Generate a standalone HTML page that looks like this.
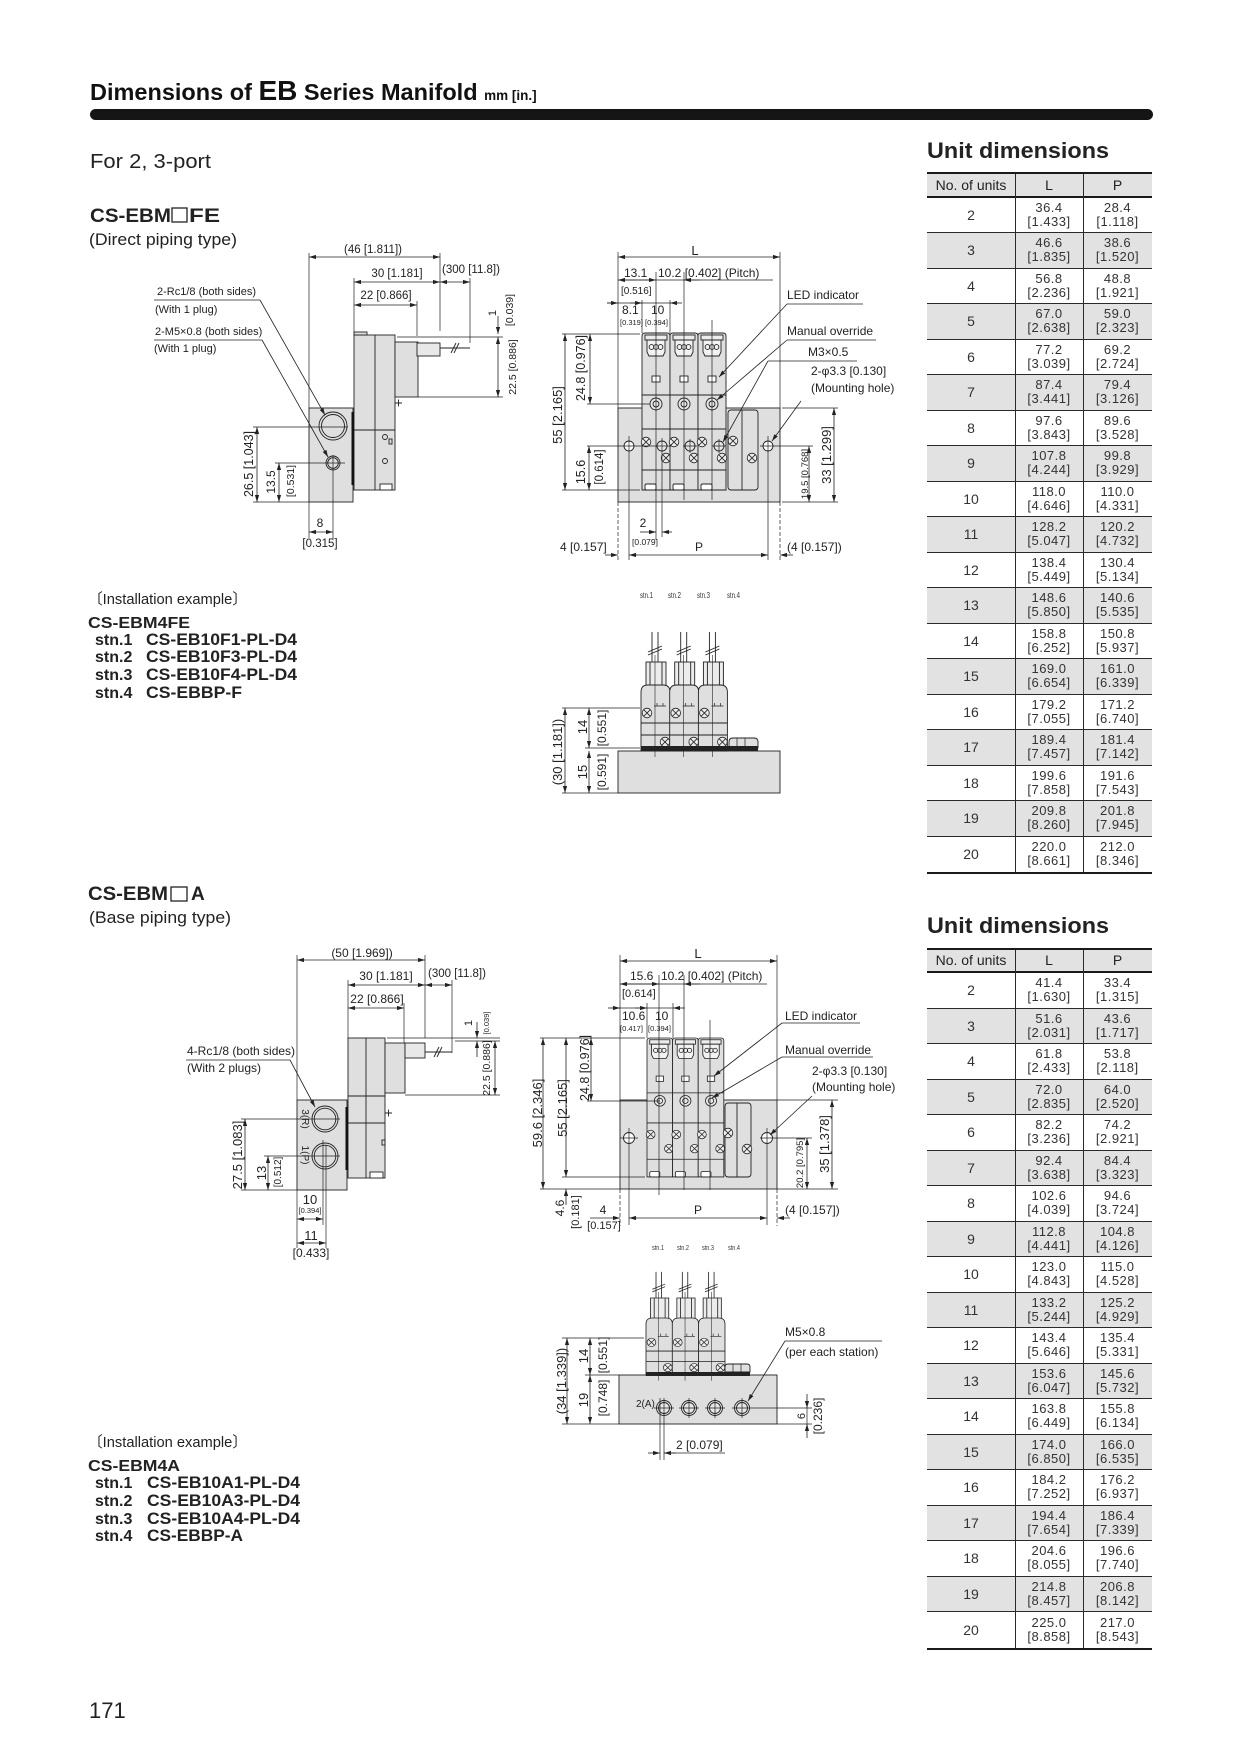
<!DOCTYPE html>
<html><head><meta charset="utf-8">
<style>
html,body{margin:0;padding:0;background:#fff}
#pg{position:relative;width:1240px;height:1754px;overflow:hidden;background:#fff}
svg{position:absolute;left:0;top:0}
.tbl{position:absolute;left:927px;width:225px;border-top:2.5px solid #1a1a1a;border-bottom:2.5px solid #1a1a1a;font-family:"Liberation Sans",Arial,sans-serif;color:#333}
.tbl .vl{position:absolute;top:0;bottom:0;width:1px;background:#2a2a2a}
.tbl .hd,.tbl .rw{display:grid;grid-template-columns:88px 68px 69px;align-items:center;box-sizing:border-box}
.tbl .hd{height:23.5px;background:#e2e2e2;border-bottom:2.5px solid #1a1a1a;color:#222;font-size:14px}
.tbl .rw{height:35.5px;border-bottom:1px solid #2a2a2a}
.tbl .rw:last-child{border-bottom:none}
.tbl .g{background:#e2e2e2}
.tbl p{margin:0;text-align:center;font-size:13px;line-height:14px;letter-spacing:.5px}
.tbl p:first-child{font-size:14px;letter-spacing:0}
.tbl .hd p{font-size:14px;letter-spacing:0}
</style></head><body><div id="pg">
<svg width="1240" height="1754" viewBox="0 0 1240 1754" font-family="'Liberation Sans','Noto Sans CJK JP',sans-serif">
<defs>
<marker id="ar" viewBox="0 0 10 6" refX="10" refY="3" markerWidth="7" markerHeight="4.2" markerUnits="userSpaceOnUse" orient="auto-start-reverse"><path d="M0,0L10,3L0,6z" fill="#222"/></marker>
<g id="sx"><circle r="4.8" fill="#ececec" stroke="#222" stroke-width="0.8"/><path d="M-3.3,-3.3L3.3,3.3M3.3,-3.3L-3.3,3.3" stroke="#222" stroke-width="0.8"/></g>
<g id="vf" stroke="#222" stroke-width="0.9" fill="none">
<path d="M0,157V3Q0,0 3,0H25Q28,0 28,3V157Z" fill="#dfdfdf"/>
<rect x="3" y="2" width="22" height="5" fill="#ececec"/>
<path d="M5,7H23V19L21,23H7L5,19Z" fill="#f2f2f2"/>
<circle cx="9.5" cy="14" r="2.4"/><circle cx="14" cy="14" r="2.4"/><circle cx="18.5" cy="14" r="2.4"/>
<line x1="0" y1="62" x2="28" y2="62"/>
<rect x="10" y="43" width="8" height="6" fill="#fff"/>
<circle cx="14" cy="71" r="6" fill="#e8e8e8"/><circle cx="14" cy="71" r="3"/>
<line x1="0" y1="96" x2="28" y2="96"/>
<line x1="0" y1="137" x2="28" y2="137"/>
<rect x="3" y="151" width="11" height="6" rx="1.5" fill="#fff"/>
<use href="#sx" x="4" y="109"/><use href="#sx" x="24" y="125"/>
</g>
<g id="vs" stroke="#222" stroke-width="0.9" fill="none">
<line x1="11" y1="-53" x2="11" y2="-23"/><line x1="17" y1="-53" x2="17" y2="-23"/>
<path d="M7,-33L21,-39M7,-30L21,-36"/>
<rect x="5" y="-23" width="20" height="26" fill="#ececec"/>
<line x1="9" y1="-23" x2="9" y2="3"/><line x1="21" y1="-23" x2="21" y2="3"/>
<path d="M0,66V7Q0,0 7,0H22Q29,0 29,7V66Z" fill="#dfdfdf"/>
<line x1="0" y1="38" x2="29" y2="38"/><line x1="0" y1="50" x2="29" y2="50"/>
<path d="M13,21H25M16,18v3M22,18v3" stroke-width="0.7"/>
<use href="#sx" x="6" y="28"/><use href="#sx" x="24" y="57"/>
<line x1="14" y1="-30" x2="14" y2="72" stroke-width="0.6"/>
</g>
</defs>

<!-- HEADER -->
<text x="90" y="100" font-size="23.5" font-weight="bold" fill="#111">Dimensions of <tspan font-size="28">EB</tspan> Series Manifold <tspan font-size="13.5">mm [in.]</tspan></text>
<rect x="90" y="109" width="1063" height="11" rx="5.5" fill="#151515"/>

<g fill="#222">
<text x="90" y="168" font-size="20" textLength="121" lengthAdjust="spacingAndGlyphs">For 2, 3-port</text>
<text x="927" y="158" font-size="22.5" font-weight="bold" textLength="182" lengthAdjust="spacingAndGlyphs">Unit dimensions</text>
<text x="927" y="933" font-size="22.5" font-weight="bold" textLength="182" lengthAdjust="spacingAndGlyphs">Unit dimensions</text>
<text x="90" y="222" font-size="19" font-weight="bold" textLength="81" lengthAdjust="spacingAndGlyphs">CS-EBM</text>
<text x="189" y="222" font-size="19" font-weight="bold" textLength="31" lengthAdjust="spacingAndGlyphs">FE</text>
<text x="89" y="245" font-size="16.5" textLength="148" lengthAdjust="spacingAndGlyphs">(Direct piping type)</text>
<text x="88" y="900" font-size="19" font-weight="bold" textLength="80" lengthAdjust="spacingAndGlyphs">CS-EBM</text>
<text x="191" y="900" font-size="19" font-weight="bold">A</text>
<text x="89" y="923" font-size="16.5" textLength="142" lengthAdjust="spacingAndGlyphs">(Base piping type)</text>

<text x="88" y="604" font-size="15" textLength="159" lengthAdjust="spacingAndGlyphs">〔Installation example〕</text>
<text x="88" y="628" font-size="16" font-weight="bold" textLength="102" lengthAdjust="spacingAndGlyphs">CS-EBM4FE</text>
<text x="95" y="645" font-size="16" font-weight="bold">stn.1</text><text x="146" y="645" font-size="16.5" font-weight="bold" textLength="151" lengthAdjust="spacingAndGlyphs">CS-EB10F1-PL-D4</text>
<text x="95" y="662" font-size="16" font-weight="bold">stn.2</text><text x="146" y="662" font-size="16.5" font-weight="bold" textLength="151" lengthAdjust="spacingAndGlyphs">CS-EB10F3-PL-D4</text>
<text x="95" y="680" font-size="16" font-weight="bold">stn.3</text><text x="146" y="680" font-size="16.5" font-weight="bold" textLength="151" lengthAdjust="spacingAndGlyphs">CS-EB10F4-PL-D4</text>
<text x="95" y="698" font-size="16" font-weight="bold">stn.4</text><text x="146" y="698" font-size="16.5" font-weight="bold" textLength="96" lengthAdjust="spacingAndGlyphs">CS-EBBP-F</text>

<text x="88" y="1447" font-size="15" textLength="159" lengthAdjust="spacingAndGlyphs">〔Installation example〕</text>
<text x="88" y="1471" font-size="16" font-weight="bold" textLength="92" lengthAdjust="spacingAndGlyphs">CS-EBM4A</text>
<text x="95" y="1488" font-size="16" font-weight="bold">stn.1</text><text x="147" y="1488" font-size="16.5" font-weight="bold" textLength="153" lengthAdjust="spacingAndGlyphs">CS-EB10A1-PL-D4</text>
<text x="95" y="1506" font-size="16" font-weight="bold">stn.2</text><text x="147" y="1506" font-size="16.5" font-weight="bold" textLength="153" lengthAdjust="spacingAndGlyphs">CS-EB10A3-PL-D4</text>
<text x="95" y="1524" font-size="16" font-weight="bold">stn.3</text><text x="147" y="1524" font-size="16.5" font-weight="bold" textLength="153" lengthAdjust="spacingAndGlyphs">CS-EB10A4-PL-D4</text>
<text x="95" y="1541" font-size="16" font-weight="bold">stn.4</text><text x="147" y="1541" font-size="16.5" font-weight="bold" textLength="96" lengthAdjust="spacingAndGlyphs">CS-EBBP-A</text>

<text x="89" y="1718" font-size="22">171</text>
</g>
<rect x="172" y="208" width="15" height="14" fill="none" stroke="#222" stroke-width="1.3"/>
<rect x="171" y="887" width="16" height="14" fill="none" stroke="#222" stroke-width="1.3"/>

<!-- ========== DRAWING 1 : side view direct piping ========== -->
<g stroke="#222" stroke-width="0.9" fill="none">
<rect x="309" y="408" width="44" height="94" fill="#dfdfdf"/>
<rect x="354" y="335" width="41" height="155" fill="#dfdfdf"/>
<rect x="354" y="332" width="13" height="3" fill="#dfdfdf"/>
<line x1="375" y1="335" x2="375" y2="490"/>
<line x1="354" y1="430" x2="395" y2="430"/>
<rect x="380" y="484" width="12" height="6" fill="#fff"/>
<rect x="395" y="342" width="23" height="55" fill="#dfdfdf"/>
<rect x="417" y="343" width="23" height="13" fill="#e8e8e8"/>
<path d="M440,348H470M451,353L456,343M454,353L459,343"/>
<path d="M395,403h7M398.5,399.5v7"/>
<circle cx="385" cy="437" r="2.5"/><circle cx="385" cy="461" r="2.5"/>
<rect x="389" y="439" width="3" height="5"/>
<rect x="351.5" y="412" width="2.5" height="73" fill="#111" stroke="none"/>
<circle cx="333" cy="426" r="14" fill="#dfdfdf"/><circle cx="333" cy="426" r="11.5"/>
<circle cx="333" cy="463" r="7" fill="#dfdfdf"/><circle cx="333" cy="463" r="5.3"/>
<path stroke-width="0.7" d="M309,253V408M354,278V335M440,253V331M470,278V343M417,301V336M397,337H503M418,397H503M253,427H348M275,463H345M253,502H309M333,455V540M309,502V538M154,300H260M154,340H262"/>
</g>
<g stroke="#222" stroke-width="0.8" marker-start="url(#ar)" marker-end="url(#ar)">
<line x1="309" y1="257" x2="440" y2="257"/><line x1="354" y1="282" x2="440" y2="282"/><line x1="440" y1="282" x2="470" y2="282"/>
<line x1="354" y1="305" x2="417" y2="305"/><line x1="498" y1="337" x2="498" y2="397"/>
<line x1="257" y1="427" x2="257" y2="502"/><line x1="279" y1="463" x2="279" y2="502"/><line x1="309" y1="532" x2="333" y2="532"/>
</g>
<g stroke="#222" stroke-width="0.8" marker-end="url(#ar)">
<line x1="498" y1="316" x2="498" y2="334"/>
<line x1="260" y1="300" x2="325" y2="415"/><line x1="262" y1="340" x2="328" y2="457"/>
</g>
<g fill="#222">
<text x="373" y="253" text-anchor="middle" font-size="11.5">(46 [1.811])</text>
<text x="397" y="277" text-anchor="middle" font-size="11.5">30 [1.181]</text>
<text x="442" y="273" font-size="11.5">(300 [11.8])</text>
<text x="386" y="299" text-anchor="middle" font-size="11.5">22 [0.866]</text>
<text transform="translate(496,313) rotate(-90)" text-anchor="middle" font-size="11">1</text>
<text transform="translate(513,310) rotate(-90)" text-anchor="middle" font-size="10.5">[0.039]</text>
<text transform="translate(516,367) rotate(-90)" text-anchor="middle" font-size="10.5">22.5 [0.886]</text>
<text x="157" y="295" font-size="11">2-Rc1/8 (both sides)</text>
<text x="155" y="313" font-size="11">(With 1 plug)</text>
<text x="155" y="335" font-size="11">2-M5×0.8 (both sides)</text>
<text x="154" y="352" font-size="11">(With 1 plug)</text>
<text transform="translate(253,464) rotate(-90)" text-anchor="middle" font-size="12.5">26.5 [1.043]</text>
<text transform="translate(275,482) rotate(-90)" text-anchor="middle" font-size="12">13.5</text>
<text transform="translate(294,481) rotate(-90)" text-anchor="middle" font-size="10.5">[0.531]</text>
<text x="320" y="527" text-anchor="middle" font-size="12">8</text>
<text x="320" y="547" text-anchor="middle" font-size="11.5">[0.315]</text>
</g>

<!-- ========== DRAWING 2 : front view direct piping ========== -->
<g stroke="#222" stroke-width="0.9" fill="none">
<rect x="618" y="408" width="162" height="94" fill="#dfdfdf"/>
<use href="#vf" x="642" y="333"/><use href="#vf" x="670" y="333"/><use href="#vf" x="698" y="333"/>
<rect x="728" y="410" width="30" height="80" rx="3" fill="#dfdfdf"/>
<line x1="742" y1="410" x2="742" y2="490"/>
<use href="#sx" x="733" y="441"/><use href="#sx" x="752" y="458"/>
<circle cx="662" cy="446" r="5" fill="#e6e6e6"/><circle cx="690" cy="446" r="5" fill="#e6e6e6"/><circle cx="719" cy="446" r="5" fill="#e6e6e6"/>
<path d="M683,446h14M690,439v14M712,446h14M719,439v14" stroke-width="0.7"/>
<circle cx="629" cy="446" r="5" fill="#fff"/><circle cx="768" cy="446" r="5" fill="#fff"/>
<path stroke-width="0.7" d="M618,252V408M780,252V408M656,272V540M684,272V500M712,320V500M642,300V333M670,300V333M662,438V537M629,436V560M768,436V560M562,334H640M587,404H650M587,446H672M562,490H640M782,408H838M760,446H813M782,502H838M618,280H773M607,303H670M787,304H863M787,340H876M768,361H857M761,446H776"/>
<path stroke-width="0.7" stroke-dasharray="4 2" d="M618,502V562M780,502V562"/>
</g>
<g stroke="#222" stroke-width="0.8" marker-start="url(#ar)" marker-end="url(#ar)">
<line x1="618" y1="257" x2="780" y2="257"/><line x1="565" y1="334" x2="565" y2="490"/><line x1="590" y1="334" x2="590" y2="404"/>
<line x1="589" y1="446" x2="589" y2="490"/><line x1="834" y1="408" x2="834" y2="502"/><line x1="809" y1="446" x2="809" y2="502"/>
<line x1="629" y1="555" x2="768" y2="555"/>
</g>
<g stroke="#222" stroke-width="0.8" marker-end="url(#ar)">
<line x1="605" y1="555" x2="618" y2="555"/><line x1="793" y1="555" x2="780" y2="555"/>
<line x1="640" y1="532" x2="656" y2="532"/><line x1="672" y1="532" x2="662" y2="532"/>
<line x1="640" y1="280" x2="618" y2="280"/><line x1="640" y1="280" x2="656" y2="280"/><line x1="700" y1="280" x2="684" y2="280"/>
<line x1="607" y1="303" x2="618" y2="303"/><line x1="630" y1="303" x2="642" y2="303"/><line x1="682" y1="303" x2="670" y2="303"/>
<line x1="787" y1="304" x2="719" y2="377"/><line x1="787" y1="340" x2="717" y2="400"/>
<line x1="768" y1="361" x2="723" y2="442"/><line x1="801" y1="401" x2="772" y2="441"/>
</g>
<g fill="#222">
<text x="695" y="255" text-anchor="middle" font-size="13">L</text>
<text x="624" y="277" font-size="12">13.1</text>
<text x="658" y="277" font-size="12">10.2 [0.402] (Pitch)</text>
<text x="621" y="294" font-size="10">[0.516]</text>
<text x="622" y="314" font-size="12">8.1</text><text x="651" y="314" font-size="12">10</text>
<text x="620" y="325" font-size="7.5">[0.319]</text><text x="645" y="325" font-size="7.5">[0.394]</text>
<text transform="translate(562,415) rotate(-90)" text-anchor="middle" font-size="13">55 [2.165]</text>
<text transform="translate(585,368) rotate(-90)" text-anchor="middle" font-size="12.5">24.8 [0.976]</text>
<text transform="translate(585,472) rotate(-90)" text-anchor="middle" font-size="12.5">15.6</text>
<text transform="translate(603,467) rotate(-90)" text-anchor="middle" font-size="11.5">[0.614]</text>
<text transform="translate(831,455) rotate(-90)" text-anchor="middle" font-size="13">33 [1.299]</text>
<text transform="translate(808,474) rotate(-90)" text-anchor="middle" font-size="9.5">19.5 [0.768]</text>
<text x="787" y="299" font-size="12">LED indicator</text>
<text x="787" y="335" font-size="12">Manual override</text>
<text x="808" y="356" font-size="12">M3×0.5</text>
<text x="811" y="375" font-size="12">2-φ3.3 [0.130]</text>
<text x="811" y="392" font-size="12">(Mounting hole)</text>
<text x="643" y="527" text-anchor="middle" font-size="12">2</text>
<text x="632" y="545" font-size="8.5">[0.079]</text>
<text x="560" y="551" font-size="12">4 [0.157]</text>
<text x="695" y="551" font-size="12">P</text>
<text x="787" y="551" font-size="12">(4 [0.157])</text>
</g>

<!-- ========== INSTALLATION 1 ========== -->
<g fill="#333" font-size="8">
<text x="640" y="598" textLength="13" lengthAdjust="spacingAndGlyphs">stn.1</text>
<text x="668" y="598" textLength="13" lengthAdjust="spacingAndGlyphs">stn.2</text>
<text x="697" y="598" textLength="13" lengthAdjust="spacingAndGlyphs">stn.3</text>
<text x="727" y="598" textLength="13" lengthAdjust="spacingAndGlyphs">stn.4</text>
</g>
<g stroke="#222" stroke-width="0.9" fill="none">
<rect x="618" y="751" width="162" height="42" fill="#dfdfdf"/>
<use href="#vs" x="641" y="685"/><use href="#vs" x="669.7" y="685"/><use href="#vs" x="698.4" y="685"/>
<path d="M729,748V742Q729,738 733,738H754Q758,738 758,742V748Z" fill="#dfdfdf"/>
<path d="M737,738v10M745,738v10" stroke-width="0.7"/>
<rect x="641" y="746" width="117" height="5" fill="#222" stroke="none"/>
<path stroke-width="0.7" d="M562,708H640M585,748H640M562,793H618"/>
</g>
<g stroke="#222" stroke-width="0.8" marker-start="url(#ar)" marker-end="url(#ar)">
<line x1="565" y1="708" x2="565" y2="793"/><line x1="589" y1="708" x2="589" y2="748"/><line x1="589" y1="751" x2="589" y2="793"/>
</g>
<g fill="#222">
<text transform="translate(562,752) rotate(-90)" text-anchor="middle" font-size="13">(30 [1.181])</text>
<text transform="translate(587,727) rotate(-90)" text-anchor="middle" font-size="13">14</text>
<text transform="translate(606,728) rotate(-90)" text-anchor="middle" font-size="12">[0.551]</text>
<text transform="translate(587,772) rotate(-90)" text-anchor="middle" font-size="13">15</text>
<text transform="translate(606,772) rotate(-90)" text-anchor="middle" font-size="12">[0.591]</text>
</g>

<!-- ========== DRAWING 3 : side view base piping ========== -->
<g stroke="#222" stroke-width="0.9" fill="none">
<rect x="297" y="1100" width="50" height="90" fill="#dfdfdf"/>
<rect x="348" y="1038" width="37" height="140" fill="#dfdfdf"/>
<line x1="366" y1="1038" x2="366" y2="1178"/>
<path d="M348,1096H385M348,1123H385"/>
<rect x="370" y="1172" width="13" height="6" fill="#fff"/>
<rect x="385" y="1043" width="20" height="50" fill="#dfdfdf"/>
<rect x="405" y="1043" width="20" height="15" fill="#e8e8e8"/>
<path d="M425,1052H452M434,1057L439,1047M437,1057L442,1047"/>
<path d="M385,1113h7M388.5,1109.5v7"/>
<rect x="382" y="1140" width="3" height="5"/>
<rect x="345.5" y="1107" width="2.5" height="63" fill="#111" stroke="none"/>
<circle cx="325" cy="1119" r="13" fill="#dfdfdf"/><circle cx="325" cy="1119" r="10.8"/>
<circle cx="325" cy="1156" r="13" fill="#dfdfdf"/><circle cx="325" cy="1156" r="10.8"/>
<path stroke-width="0.7" d="M297,955V1100M297,1190V1248M348,980V1038M425,955V1038M452,980V1053M404,1003V1043M387,1038H500M455,1041H500M405,1095H500M241,1119H340M264,1156H340M241,1190H297M323,1140V1225M326,1145V1248M186,1060H290"/>
</g>
<g stroke="#222" stroke-width="0.8" marker-start="url(#ar)" marker-end="url(#ar)">
<line x1="297" y1="960" x2="425" y2="960"/><line x1="348" y1="985" x2="425" y2="985"/><line x1="425" y1="985" x2="452" y2="985"/>
<line x1="348" y1="1008" x2="404" y2="1008"/><line x1="495" y1="1041" x2="495" y2="1095"/>
<line x1="245" y1="1119" x2="245" y2="1190"/><line x1="268" y1="1156" x2="268" y2="1190"/>
<line x1="297" y1="1219" x2="323" y2="1219"/><line x1="297" y1="1243" x2="326" y2="1243"/>
</g>
<g stroke="#222" stroke-width="0.8" marker-end="url(#ar)">
<line x1="477" y1="1022" x2="477" y2="1038"/><line x1="477" y1="1057" x2="477" y2="1041"/>
<line x1="290" y1="1060" x2="315" y2="1107"/>
</g>
<g fill="#222">
<text x="362" y="957" text-anchor="middle" font-size="12">(50 [1.969])</text>
<text x="386" y="980" text-anchor="middle" font-size="12">30 [1.181]</text>
<text x="428" y="977" font-size="11.5">(300 [11.8])</text>
<text x="377" y="1003" text-anchor="middle" font-size="12">22 [0.866]</text>
<text transform="translate(472,1023) rotate(-90)" text-anchor="middle" font-size="11">1</text>
<text transform="translate(489,1023) rotate(-90)" text-anchor="middle" font-size="7.5">[0.039]</text>
<text transform="translate(490,1068) rotate(-90)" text-anchor="middle" font-size="10.5">22.5 [0.886]</text>
<text x="187" y="1055" font-size="12">4-Rc1/8 (both sides)</text>
<text x="187" y="1072" font-size="12">(With 2 plugs)</text>
<text transform="translate(302,1119) rotate(90)" text-anchor="middle" font-size="10">3(R)</text>
<text transform="translate(302,1155) rotate(90)" text-anchor="middle" font-size="10">1(P)</text>
<text transform="translate(242,1155) rotate(-90)" text-anchor="middle" font-size="13">27.5 [1.083]</text>
<text transform="translate(266,1173) rotate(-90)" text-anchor="middle" font-size="13">13</text>
<text transform="translate(281,1172) rotate(-90)" text-anchor="middle" font-size="10">[0.512]</text>
<text x="310" y="1204" text-anchor="middle" font-size="13">10</text>
<text x="310" y="1213" text-anchor="middle" font-size="7.5">[0.394]</text>
<text x="311" y="1240" text-anchor="middle" font-size="13">11</text>
<text x="311" y="1257" text-anchor="middle" font-size="12">[0.433]</text>
</g>

<!-- ========== DRAWING 4 : front view base piping ========== -->
<g stroke="#222" stroke-width="0.9" fill="none">
<rect x="620" y="1100" width="157" height="89" fill="#dfdfdf"/>
<use href="#vf" transform="translate(647,1038) scale(0.915,0.885)"/>
<use href="#vf" transform="translate(672.6,1038) scale(0.915,0.885)"/>
<use href="#vf" transform="translate(698.2,1038) scale(0.915,0.885)"/>
<rect x="725" y="1103" width="26" height="74" rx="3" fill="#dfdfdf"/>
<line x1="737" y1="1103" x2="737" y2="1177"/>
<use href="#sx" x="728" y="1133"/><use href="#sx" x="747" y="1149"/>
<circle cx="629" cy="1138" r="5.5" fill="#fff"/><circle cx="767" cy="1138" r="5.5" fill="#fff"/>
<path stroke-width="0.7" d="M620,955V1100M777,955V1100M659,975V1195M684,975V1190M710,1020V1190M647,1003V1038M673,1003V1038M629,1128V1225M767,1128V1225M540,1038H645M587,1101H660M562,1177H645M540,1189H620M777,1100H838M760,1138H812M777,1189H838M620,1138H638M620,984H767M612,1008H673M782,1023H860M782,1057H873"/>
<path stroke-width="0.7" stroke-dasharray="4 2" d="M620,1189V1226M777,1189V1226"/>
</g>
<g stroke="#222" stroke-width="0.8" marker-start="url(#ar)" marker-end="url(#ar)">
<line x1="620" y1="961" x2="777" y2="961"/><line x1="543" y1="1038" x2="543" y2="1189"/>
<line x1="566" y1="1038" x2="566" y2="1177"/><line x1="591" y1="1038" x2="591" y2="1101"/>
<line x1="832" y1="1100" x2="832" y2="1189"/><line x1="807" y1="1138" x2="807" y2="1189"/>
<line x1="629" y1="1218" x2="767" y2="1218"/>
</g>
<g stroke="#222" stroke-width="0.8" marker-end="url(#ar)">
<line x1="566" y1="1205" x2="566" y2="1189"/>
<line x1="590" y1="1218" x2="620" y2="1218"/><line x1="790" y1="1218" x2="777" y2="1218"/>
<line x1="640" y1="984" x2="620" y2="984"/><line x1="640" y1="984" x2="659" y2="984"/><line x1="700" y1="984" x2="684" y2="984"/>
<line x1="608" y1="1008" x2="620" y2="1008"/><line x1="635" y1="1008" x2="647" y2="1008"/><line x1="685" y1="1008" x2="673" y2="1008"/>
<line x1="782" y1="1023" x2="714" y2="1076"/><line x1="782" y1="1057" x2="712" y2="1098"/>
<line x1="812" y1="1096" x2="770" y2="1135"/>
</g>
<g fill="#222">
<text x="698" y="958" text-anchor="middle" font-size="13">L</text>
<text x="630" y="980" font-size="12">15.6</text>
<text x="661" y="980" font-size="12">10.2 [0.402] (Pitch)</text>
<text x="622" y="997" font-size="11">[0.614]</text>
<text x="622" y="1020" font-size="12">10.6</text><text x="655" y="1020" font-size="12">10</text>
<text x="620" y="1031" font-size="7.5">[0.417]</text><text x="648" y="1031" font-size="7.5">[0.394]</text>
<text transform="translate(542,1113) rotate(-90)" text-anchor="middle" font-size="13">59.6 [2.346]</text>
<text transform="translate(567,1108) rotate(-90)" text-anchor="middle" font-size="13">55 [2.165]</text>
<text transform="translate(589,1068) rotate(-90)" text-anchor="middle" font-size="12.5">24.8 [0.976]</text>
<text transform="translate(564,1208) rotate(-90)" text-anchor="middle" font-size="12">4.6</text>
<text transform="translate(579,1212) rotate(-90)" text-anchor="middle" font-size="11">[0.181]</text>
<text transform="translate(829,1144) rotate(-90)" text-anchor="middle" font-size="13">35 [1.378]</text>
<text transform="translate(803,1163) rotate(-90)" text-anchor="middle" font-size="9.5">20.2 [0.795]</text>
<text x="785" y="1020" font-size="12">LED indicator</text>
<text x="785" y="1054" font-size="12">Manual override</text>
<text x="812" y="1075" font-size="12">2-φ3.3 [0.130]</text>
<text x="812" y="1091" font-size="12">(Mounting hole)</text>
<text x="603" y="1214" text-anchor="middle" font-size="12">4</text>
<text x="604" y="1229" text-anchor="middle" font-size="11">[0.157]</text>
<text x="698" y="1214" text-anchor="middle" font-size="12">P</text>
<text x="785" y="1214" font-size="12">(4 [0.157])</text>
</g>
<g fill="#333" font-size="7.5">
<text x="652" y="1250" textLength="12" lengthAdjust="spacingAndGlyphs">stn.1</text>
<text x="677" y="1250" textLength="12" lengthAdjust="spacingAndGlyphs">stn.2</text>
<text x="702" y="1250" textLength="12" lengthAdjust="spacingAndGlyphs">stn.3</text>
<text x="728" y="1250" textLength="12" lengthAdjust="spacingAndGlyphs">stn.4</text>
</g>

<!-- ========== INSTALLATION 2 ========== -->
<g stroke="#222" stroke-width="0.9" fill="none">
<rect x="619" y="1375" width="158" height="49" fill="#dfdfdf"/>
<use href="#vs" transform="translate(646,1318) scale(0.91,0.87)"/>
<use href="#vs" transform="translate(672.3,1318) scale(0.91,0.87)"/>
<use href="#vs" transform="translate(698.6,1318) scale(0.91,0.87)"/>
<path d="M725,1372V1367Q725,1364 728,1364H747Q750,1364 750,1367V1372Z" fill="#dfdfdf"/>
<path d="M733,1364v8M741,1364v8" stroke-width="0.7"/>
<rect x="646" y="1372" width="104" height="4" fill="#222" stroke="none"/>
<circle cx="664" cy="1408" r="7.5" fill="#e6e6e6"/><circle cx="664" cy="1408" r="5.5"/>
<circle cx="689" cy="1408" r="7.5" fill="#e6e6e6"/><circle cx="689" cy="1408" r="5.5"/>
<circle cx="715" cy="1408" r="7.5" fill="#e6e6e6"/><circle cx="715" cy="1408" r="5.5"/>
<circle cx="742" cy="1408" r="7.5" fill="#e6e6e6"/><circle cx="742" cy="1408" r="5.5"/>
<path stroke-width="0.7" d="M654,1408h20M679,1408h20M689,1398v20M705,1408h20M715,1398v20M732,1408h20M742,1398v20M562,1338H644M585,1375H619M562,1424H619M750,1408H812M777,1424H812M660,1398V1460M664,1398V1460M664,1453H725M785,1341H882M807,1408V1424"/>
</g>
<g stroke="#222" stroke-width="0.8" marker-start="url(#ar)" marker-end="url(#ar)">
<line x1="567" y1="1338" x2="567" y2="1424"/><line x1="590" y1="1338" x2="590" y2="1375"/><line x1="590" y1="1375" x2="590" y2="1424"/>
</g>
<g stroke="#222" stroke-width="0.8" marker-end="url(#ar)">
<line x1="807" y1="1394" x2="807" y2="1408"/><line x1="807" y1="1438" x2="807" y2="1424"/>
<line x1="648" y1="1453" x2="660" y2="1453"/><line x1="676" y1="1453" x2="664" y2="1453"/>
<line x1="785" y1="1341" x2="748" y2="1401"/>
</g>
<g fill="#222">
<text transform="translate(566,1381) rotate(-90)" text-anchor="middle" font-size="13">(34 [1.339])</text>
<text transform="translate(588,1356) rotate(-90)" text-anchor="middle" font-size="13">14</text>
<text transform="translate(607,1355) rotate(-90)" text-anchor="middle" font-size="12">[0.551]</text>
<text transform="translate(588,1400) rotate(-90)" text-anchor="middle" font-size="13">19</text>
<text transform="translate(607,1398) rotate(-90)" text-anchor="middle" font-size="12">[0.748]</text>
<text transform="translate(805,1416) rotate(-90)" text-anchor="middle" font-size="11">6</text>
<text transform="translate(822,1416) rotate(-90)" text-anchor="middle" font-size="12">[0.236]</text>
<text x="785" y="1336" font-size="12">M5×0.8</text>
<text x="785" y="1356" font-size="12">(per each station)</text>
<text x="636" y="1407" font-size="10">2(A)</text>
<text x="676" y="1449" font-size="12">2 [0.079]</text>
</g>
</svg>

<div class="tbl" style="top:172px">
<div class="vl" style="left:88px"></div><div class="vl" style="left:156px"></div>
<div class="hd"><p>No. of units</p><p>L</p><p>P</p></div>
<div class="rw"><p>2</p><p>36.4<br>[1.433]</p><p>28.4<br>[1.118]</p></div>
<div class="rw g"><p>3</p><p>46.6<br>[1.835]</p><p>38.6<br>[1.520]</p></div>
<div class="rw"><p>4</p><p>56.8<br>[2.236]</p><p>48.8<br>[1.921]</p></div>
<div class="rw g"><p>5</p><p>67.0<br>[2.638]</p><p>59.0<br>[2.323]</p></div>
<div class="rw"><p>6</p><p>77.2<br>[3.039]</p><p>69.2<br>[2.724]</p></div>
<div class="rw g"><p>7</p><p>87.4<br>[3.441]</p><p>79.4<br>[3.126]</p></div>
<div class="rw"><p>8</p><p>97.6<br>[3.843]</p><p>89.6<br>[3.528]</p></div>
<div class="rw g"><p>9</p><p>107.8<br>[4.244]</p><p>99.8<br>[3.929]</p></div>
<div class="rw"><p>10</p><p>118.0<br>[4.646]</p><p>110.0<br>[4.331]</p></div>
<div class="rw g"><p>11</p><p>128.2<br>[5.047]</p><p>120.2<br>[4.732]</p></div>
<div class="rw"><p>12</p><p>138.4<br>[5.449]</p><p>130.4<br>[5.134]</p></div>
<div class="rw g"><p>13</p><p>148.6<br>[5.850]</p><p>140.6<br>[5.535]</p></div>
<div class="rw"><p>14</p><p>158.8<br>[6.252]</p><p>150.8<br>[5.937]</p></div>
<div class="rw g"><p>15</p><p>169.0<br>[6.654]</p><p>161.0<br>[6.339]</p></div>
<div class="rw"><p>16</p><p>179.2<br>[7.055]</p><p>171.2<br>[6.740]</p></div>
<div class="rw g"><p>17</p><p>189.4<br>[7.457]</p><p>181.4<br>[7.142]</p></div>
<div class="rw"><p>18</p><p>199.6<br>[7.858]</p><p>191.6<br>[7.543]</p></div>
<div class="rw g"><p>19</p><p>209.8<br>[8.260]</p><p>201.8<br>[7.945]</p></div>
<div class="rw"><p>20</p><p>220.0<br>[8.661]</p><p>212.0<br>[8.346]</p></div>
</div>

<div class="tbl" style="top:947.5px">
<div class="vl" style="left:88px"></div><div class="vl" style="left:156px"></div>
<div class="hd"><p>No. of units</p><p>L</p><p>P</p></div>
<div class="rw"><p>2</p><p>41.4<br>[1.630]</p><p>33.4<br>[1.315]</p></div>
<div class="rw g"><p>3</p><p>51.6<br>[2.031]</p><p>43.6<br>[1.717]</p></div>
<div class="rw"><p>4</p><p>61.8<br>[2.433]</p><p>53.8<br>[2.118]</p></div>
<div class="rw g"><p>5</p><p>72.0<br>[2.835]</p><p>64.0<br>[2.520]</p></div>
<div class="rw"><p>6</p><p>82.2<br>[3.236]</p><p>74.2<br>[2.921]</p></div>
<div class="rw g"><p>7</p><p>92.4<br>[3.638]</p><p>84.4<br>[3.323]</p></div>
<div class="rw"><p>8</p><p>102.6<br>[4.039]</p><p>94.6<br>[3.724]</p></div>
<div class="rw g"><p>9</p><p>112.8<br>[4.441]</p><p>104.8<br>[4.126]</p></div>
<div class="rw"><p>10</p><p>123.0<br>[4.843]</p><p>115.0<br>[4.528]</p></div>
<div class="rw g"><p>11</p><p>133.2<br>[5.244]</p><p>125.2<br>[4.929]</p></div>
<div class="rw"><p>12</p><p>143.4<br>[5.646]</p><p>135.4<br>[5.331]</p></div>
<div class="rw g"><p>13</p><p>153.6<br>[6.047]</p><p>145.6<br>[5.732]</p></div>
<div class="rw"><p>14</p><p>163.8<br>[6.449]</p><p>155.8<br>[6.134]</p></div>
<div class="rw g"><p>15</p><p>174.0<br>[6.850]</p><p>166.0<br>[6.535]</p></div>
<div class="rw"><p>16</p><p>184.2<br>[7.252]</p><p>176.2<br>[6.937]</p></div>
<div class="rw g"><p>17</p><p>194.4<br>[7.654]</p><p>186.4<br>[7.339]</p></div>
<div class="rw"><p>18</p><p>204.6<br>[8.055]</p><p>196.6<br>[7.740]</p></div>
<div class="rw g"><p>19</p><p>214.8<br>[8.457]</p><p>206.8<br>[8.142]</p></div>
<div class="rw"><p>20</p><p>225.0<br>[8.858]</p><p>217.0<br>[8.543]</p></div>
</div>
</div></body></html>
